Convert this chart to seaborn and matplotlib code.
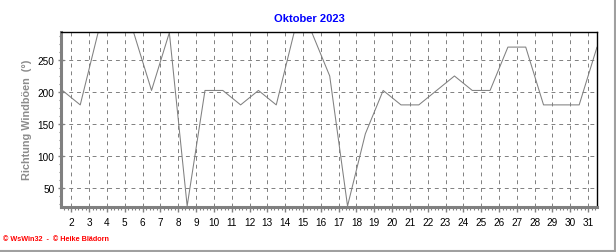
import numpy as np
import pandas as pd
import matplotlib
matplotlib.use("Agg")
import matplotlib.pyplot as plt
import seaborn as sns
from matplotlib.ticker import MultipleLocator, FixedLocator

days = list(range(1, 32))
direction = [202.5, 180, 292.5, 292.5, 292.5, 202.5, 292.5, 22.5, 202.5, 202.5,
             180, 202.5, 180, 292.5, 292.5, 225, 22.5, 135, 202.5, 180,
             180, 202.5, 225, 202.5, 202.5, 270, 270, 180, 180, 180, 270]
xtick_labels = [str(d) for d in range(2, 32)]
yticks = [50, 100, 150, 200, 250]
title = "Oktober 2023"
ylabel = "Richtung Windböen  (°)"
footer = "© WsWin32  -  © Heike Blädorn"

sns.set_style("white")
plt.rcParams['font.family'] = ['Liberation Sans', 'DejaVu Sans']

df = pd.DataFrame({"pos": [d + 0.5 for d in days], "dir": direction})

fig = plt.figure(figsize=(6.16, 2.53), dpi=100)
ax = fig.add_axes([61/616, 1 - 208/253, (597 - 61)/616, (208 - 33)/253])
sns.lineplot(data=df, x="pos", y="dir", ax=ax, color="#808080", linewidth=0.75)

ax.set_xlim(1.42, 31.5)
ax.set_ylim(21, 293.5)
ax.xaxis.set_major_locator(FixedLocator(list(range(2, 32))))
ax.set_xticklabels(xtick_labels)
ax.xaxis.set_minor_locator(MultipleLocator(0.2))
ax.yaxis.set_major_locator(FixedLocator(yticks))
ax.yaxis.set_minor_locator(MultipleLocator(12.5))
ax.set_yticklabels([str(v) for v in yticks])

ax.grid(True, which="major", color="#808080", linestyle=(0, (4, 4)), linewidth=0.7)
ax.set_axisbelow(True)

for s in ["left", "bottom"]:
    ax.spines[s].set_color("#808080")
    ax.spines[s].set_linewidth(2.2)
for s in ["top", "right"]:
    ax.spines[s].set_color("black")
    ax.spines[s].set_linewidth(1.0)

ax.tick_params(axis="x", which="major", direction="out", length=3.5, width=1,
               color="#808080", labelsize=7.2, pad=3.5, labelcolor="black")
ax.tick_params(axis="x", which="minor", direction="out", length=1.8, width=0.8,
               color="#808080")
ax.tick_params(axis="y", which="major", direction="inout", length=4.5, width=1,
               color="#808080", labelsize=7.2, pad=2.5, labelcolor="black")
ax.tick_params(axis="y", which="minor", direction="out", length=1.8, width=0.8,
               color="#808080")
ax.tick_params(bottom=True, left=True, which="both")

ax.set_xlabel("")
ax.set_ylabel("")
fig.text(27/616, 1 - 120/253, ylabel, rotation=90, ha="center", va="center",
         color="#8c8c8c", fontsize=7.8, fontweight="bold")
fig.text(309/616, 1 - 19/253, title, ha="center", va="center",
         color="#0000ff", fontsize=8, fontweight="bold")
fig.text(3/616, 1 - 240/253, footer, ha="left", va="center",
         color="#ff0000", fontsize=5.2, fontweight="bold")

# frame shadow lines (right and bottom)
fig.add_artist(plt.Line2D([614.5/616, 614.5/616], [1 - 252/253, 1.0],
                          transform=fig.transFigure, color="#a0a0a0", linewidth=1.5))
fig.add_artist(plt.Line2D([0, 614.5/616], [1 - 252/253, 1 - 252/253],
                          transform=fig.transFigure, color="#a0a0a0", linewidth=1.5))

fig.savefig("out.png", dpi=100)
